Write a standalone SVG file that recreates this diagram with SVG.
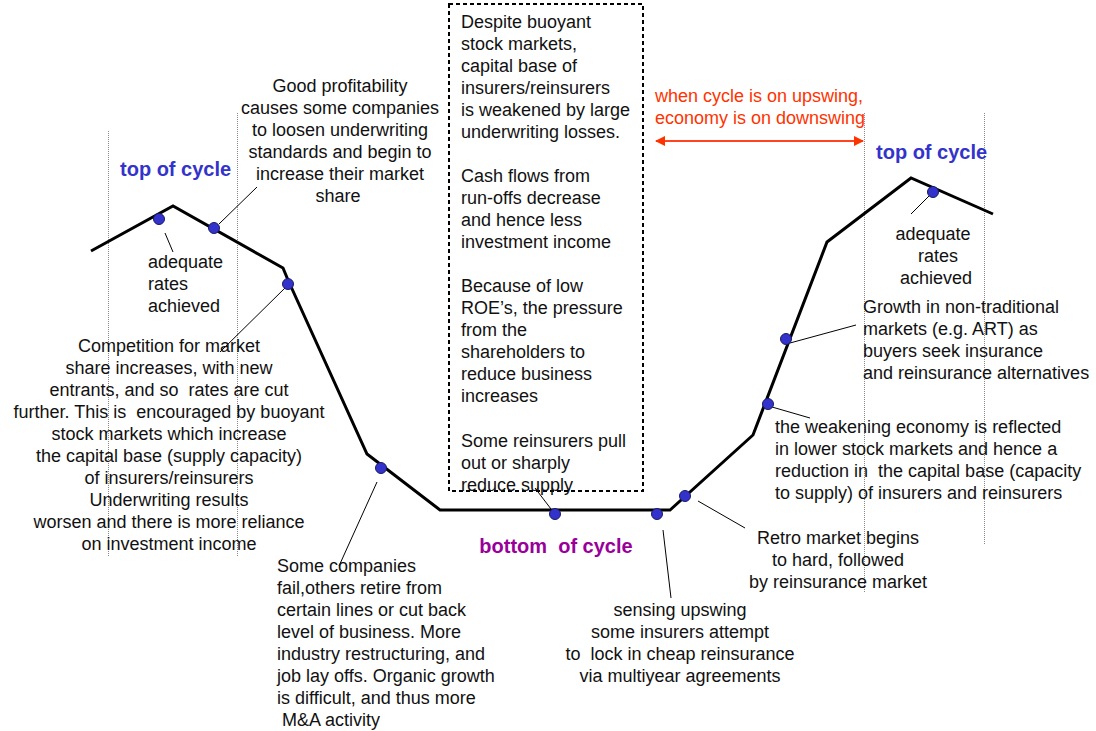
<svg xmlns="http://www.w3.org/2000/svg" width="1096" height="731" viewBox="0 0 1096 731">
<defs>
<style>
text{font-family:"Liberation Sans",Arial,sans-serif;font-size:18px;fill:#111;white-space:pre}
.mid{text-anchor:middle}
.top{font-weight:bold;font-size:20px;fill:#3333CC}
.bot{font-weight:bold;font-size:20px;fill:#990099}
.red{fill:#FF3300}
.guide{stroke:#888;stroke-width:1;stroke-dasharray:1 1;fill:none}
.curve{stroke:#000;stroke-width:3;fill:none;stroke-linejoin:miter}
.lead{stroke:#000;stroke-width:1;fill:none}
.dot{fill:#3333CC;stroke:#1a1a66;stroke-width:1}
</style>
<marker id="ah" viewBox="0 0 10 10" refX="9" refY="5" markerWidth="6" markerHeight="5" orient="auto-start-reverse" markerUnits="strokeWidth">
<path d="M0,0 L10,5 L0,10 z" fill="#FF3300"/>
</marker>
</defs>
<rect width="1096" height="731" fill="#fff"/>

<g id="guides">
<line class="guide" x1="108.5" y1="131" x2="108.5" y2="557"/>
<line class="guide" x1="237.5" y1="113" x2="237.5" y2="557"/>
<line class="guide" x1="864.5" y1="113" x2="864.5" y2="592"/>
<line class="guide" x1="984.5" y1="113" x2="984.5" y2="545"/>
</g>

<g id="box">
<rect x="449" y="4" width="194" height="487" fill="none" stroke="#000" stroke-width="2" stroke-dasharray="4 3"/>
<text x="461"><tspan x="461" y="28">Despite buoyant</tspan><tspan x="461" y="50">stock markets,</tspan><tspan x="461" y="72">capital base of</tspan><tspan x="461" y="94">insurers/reinsurers</tspan><tspan x="461" y="116">is weakened by large</tspan><tspan x="461" y="138">underwriting losses.</tspan><tspan x="461" y="182">Cash flows from</tspan><tspan x="461" y="204">run-offs decrease</tspan><tspan x="461" y="226">and hence less</tspan><tspan x="461" y="248">investment income</tspan><tspan x="461" y="292">Because of low</tspan><tspan x="461" y="314">ROE’s, the pressure</tspan><tspan x="461" y="336">from the</tspan><tspan x="461" y="358">shareholders to</tspan><tspan x="461" y="380">reduce business</tspan><tspan x="461" y="402">increases</tspan><tspan x="461" y="447">Some reinsurers pull</tspan><tspan x="461" y="469">out or sharply</tspan><tspan x="461" y="491">reduce supply</tspan></text>
</g>

<g id="cycle-curve">
<polyline class="curve" points="91,251 173,206 283,268 288,280 367,454 440,510 670,510 753,435 827,242 911,178 993,214"/>
</g>

<g id="connectors">
<line class="lead" x1="165" y1="233" x2="173" y2="252"/>
<line class="lead" x1="219" y1="224" x2="257" y2="187"/>
<line class="lead" x1="286" y1="287" x2="220" y2="352"/>
<line class="lead" x1="377" y1="482" x2="339" y2="566"/>
<line class="lead" x1="535" y1="488" x2="551" y2="509"/>
<line class="lead" x1="663" y1="530" x2="671" y2="598"/>
<line class="lead" x1="698" y1="501" x2="745" y2="528"/>
<line class="lead" x1="772" y1="407" x2="810" y2="418"/>
<line class="lead" x1="790" y1="343" x2="856" y2="325"/>
<line class="lead" x1="930" y1="195" x2="911" y2="214"/>
<line x1="656" y1="141" x2="863" y2="141" stroke="#FF4422" stroke-width="2" marker-start="url(#ah)" marker-end="url(#ah)"/>
</g>

<g id="dots">
<circle class="dot" cx="159" cy="219" r="5.5"/>
<circle class="dot" cx="214" cy="228" r="5.5"/>
<circle class="dot" cx="288" cy="284" r="5.5"/>
<circle class="dot" cx="381" cy="468" r="5.5"/>
<circle class="dot" cx="555" cy="514" r="5.5"/>
<circle class="dot" cx="657" cy="514" r="5.5"/>
<circle class="dot" cx="685" cy="496" r="5.5"/>
<circle class="dot" cx="768" cy="404" r="5.5"/>
<circle class="dot" cx="786" cy="339" r="5.5"/>
<circle class="dot" cx="933" cy="192" r="5.5"/>
</g>

<g id="top-left"><text class="top" x="120" y="176">top of cycle</text></g>
<g id="top-right"><text class="top" x="876" y="159">top of cycle</text></g>
<g id="bottom"><text class="bot mid" x="556" y="553">bottom  of cycle</text></g>

<g id="adequate-left"><text><tspan x="148" y="268">adequate</tspan><tspan x="148" y="290">rates</tspan><tspan x="148" y="312">achieved</tspan></text></g>
<g id="adequate-right"><text class="mid"><tspan x="933" y="240">adequate</tspan><tspan x="938" y="262">rates</tspan><tspan x="936" y="284">achieved</tspan></text></g>

<g id="good-profitability"><text class="mid"><tspan x="340" y="92">Good profitability</tspan><tspan x="340" y="114">causes some companies</tspan><tspan x="340" y="136">to loosen underwriting</tspan><tspan x="340" y="158">standards and begin to</tspan><tspan x="340" y="180">increase their market</tspan><tspan x="338" y="202">share</tspan></text></g>

<g id="competition"><text class="mid"><tspan x="169" y="352">Competition for market</tspan><tspan x="169" y="374">share increases, with new</tspan><tspan x="169" y="396">entrants, and so  rates are cut</tspan><tspan x="169" y="418">further. This is  encouraged by buoyant</tspan><tspan x="169" y="440">stock markets which increase</tspan><tspan x="169" y="462">the capital base (supply capacity)</tspan><tspan x="169" y="484">of insurers/reinsurers</tspan><tspan x="169" y="506">Underwriting results</tspan><tspan x="169" y="528">worsen and there is more reliance</tspan><tspan x="169" y="550">on investment income</tspan></text></g>

<g id="some-companies"><text><tspan x="277" y="572">Some companies</tspan><tspan x="277" y="594">fail,others retire from</tspan><tspan x="277" y="616">certain lines or cut back</tspan><tspan x="277" y="638">level of business. More</tspan><tspan x="277" y="660">industry restructuring, and</tspan><tspan x="277" y="682">job lay offs. Organic growth</tspan><tspan x="277" y="704">is difficult, and thus more</tspan><tspan x="277" y="726"> M&amp;A activity</tspan></text></g>

<g id="sensing"><text class="mid"><tspan x="680" y="616">sensing upswing</tspan><tspan x="680" y="638">some insurers attempt</tspan><tspan x="680" y="660">to  lock in cheap reinsurance</tspan><tspan x="680" y="682">via multiyear agreements</tspan></text></g>

<g id="retro"><text class="mid"><tspan x="838" y="544">Retro market begins</tspan><tspan x="838" y="566">to hard, followed</tspan><tspan x="838" y="588">by reinsurance market</tspan></text></g>

<g id="weakening"><text><tspan x="775" y="433">the weakening economy is reflected</tspan><tspan x="775" y="455">in lower stock markets and hence a</tspan><tspan x="775" y="477">reduction in  the capital base (capacity</tspan><tspan x="775" y="499">to supply) of insurers and reinsurers</tspan></text></g>

<g id="growth"><text><tspan x="863" y="313">Growth in non-traditional</tspan><tspan x="863" y="335">markets (e.g. ART) as</tspan><tspan x="863" y="357">buyers seek insurance</tspan><tspan x="863" y="379">and reinsurance alternatives</tspan></text></g>

<g id="upswing-note"><text class="red"><tspan x="655" y="102">when cycle is on upswing,</tspan><tspan x="655" y="124">economy is on downswing</tspan></text></g>
</svg>
